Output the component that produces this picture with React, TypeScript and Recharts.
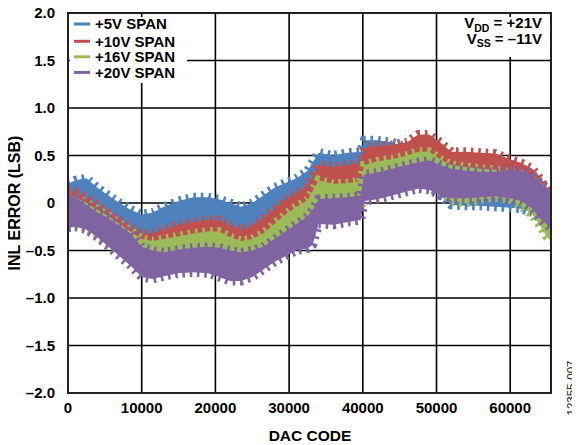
import React from 'react';
import { ComposedChart, Area, XAxis, YAxis, CartesianGrid, ReferenceArea } from 'recharts';

const FONT = '"Liberation Sans", Arial, Helvetica, sans-serif';

const codes = [0, 1000, 2500, 4000, 5500, 7000, 8500, 10000, 11500, 13000,
  15000, 17000, 19000, 20500, 22000, 23500, 25000, 26500, 28000, 29500,
  31000, 32500, 33200, 34000, 36000, 38000, 39700, 40200, 42000, 44000,
  46000, 47500, 49000, 50500, 52000, 54000, 56000, 58000, 60000, 61500,
  63000, 64000, 65000, 65535];

const span5Hi = [0.20, 0.24, 0.26, 0.16, 0.08, 0.00, -0.07, -0.12, -0.10, -0.04,
  0.02, 0.06, 0.06, 0.04, 0.00, -0.04, 0.00, 0.08, 0.16, 0.21,
  0.26, 0.34, 0.43, 0.53, 0.50, 0.53, 0.54, 0.66, 0.66, 0.64,
  0.58, 0.58, 0.54, 0.48, 0.44, 0.44, 0.44, 0.43, 0.40, 0.36,
  0.30, 0.20, 0.08, 0.03];
const span5Lo = [-0.14, -0.10, -0.10, -0.18, -0.26, -0.34, -0.40, -0.44, -0.42, -0.38,
  -0.32, -0.28, -0.28, -0.30, -0.34, -0.38, -0.34, -0.26, -0.18, -0.13,
  -0.08, 0.00, 0.07, 0.17, 0.16, 0.18, 0.20, 0.30, 0.30, 0.28,
  0.24, 0.22, 0.18, 0.08, -0.02, -0.03, -0.03, -0.04, -0.05, -0.06,
  -0.10, -0.16, -0.28, -0.33];

const span10Hi = [0.13, 0.12, 0.06, -0.02, -0.10, -0.18, -0.26, -0.32, -0.32, -0.28,
  -0.23, -0.20, -0.18, -0.18, -0.24, -0.28, -0.24, -0.16, -0.06, 0.04,
  0.10, 0.18, 0.28, 0.40, 0.38, 0.40, 0.42, 0.58, 0.60, 0.61,
  0.64, 0.72, 0.72, 0.64, 0.54, 0.54, 0.53, 0.52, 0.46, 0.42,
  0.36, 0.26, 0.13, 0.06];
const span10Lo = [-0.18, -0.18, -0.23, -0.30, -0.38, -0.46, -0.54, -0.60, -0.62, -0.60,
  -0.56, -0.53, -0.52, -0.54, -0.58, -0.62, -0.58, -0.50, -0.42, -0.34,
  -0.28, -0.20, -0.10, 0.00, -0.02, 0.00, 0.02, 0.20, 0.22, 0.24,
  0.28, 0.32, 0.32, 0.24, 0.12, 0.10, 0.10, 0.10, 0.07, 0.04,
  -0.03, -0.13, -0.20, -0.24];

const span16Hi = [0.08, 0.06, 0.00, -0.07, -0.14, -0.22, -0.30, -0.38, -0.40, -0.38,
  -0.35, -0.32, -0.30, -0.30, -0.36, -0.40, -0.38, -0.32, -0.22, -0.12,
  -0.04, 0.03, 0.13, 0.24, 0.20, 0.21, 0.23, 0.40, 0.44, 0.46,
  0.50, 0.54, 0.54, 0.46, 0.40, 0.38, 0.36, 0.35, 0.32, 0.30,
  0.24, 0.16, 0.06, 0.03];
const span16Lo = [-0.22, -0.22, -0.26, -0.34, -0.42, -0.50, -0.58, -0.66, -0.68, -0.66,
  -0.63, -0.60, -0.60, -0.62, -0.66, -0.70, -0.66, -0.58, -0.50, -0.42,
  -0.36, -0.30, -0.18, -0.08, -0.10, -0.08, -0.06, 0.12, 0.14, 0.16,
  0.20, 0.22, 0.22, 0.14, 0.02, 0.00, 0.04, 0.06, 0.04, -0.04,
  -0.12, -0.23, -0.36, -0.40];

const span20Hi = [0.08, 0.06, -0.02, -0.10, -0.16, -0.24, -0.32, -0.46, -0.50, -0.52,
  -0.49, -0.47, -0.46, -0.47, -0.50, -0.52, -0.50, -0.46, -0.38, -0.30,
  -0.22, -0.14, -0.07, 0.04, 0.05, 0.06, 0.08, 0.30, 0.32, 0.36,
  0.40, 0.43, 0.45, 0.40, 0.36, 0.34, 0.33, 0.33, 0.35, 0.34,
  0.30, 0.22, 0.15, 0.10];
const span20Lo = [-0.26, -0.25, -0.28, -0.36, -0.46, -0.56, -0.66, -0.78, -0.80, -0.77,
  -0.74, -0.73, -0.74, -0.78, -0.82, -0.82, -0.78, -0.70, -0.62, -0.56,
  -0.50, -0.48, -0.44, -0.22, -0.23, -0.20, -0.18, 0.02, 0.04, 0.08,
  0.12, 0.15, 0.14, 0.08, 0.05, 0.05, 0.06, 0.07, 0.05, 0.02,
  -0.06, -0.16, -0.23, -0.26];

const xTicks = [0, 10000, 20000, 30000, 40000, 50000, 60000];
const yTicks = [-2, -1.5, -1, -0.5, 0, 0.5, 1, 1.5, 2];

const seriesNames = ['+5V SPAN', '+10V SPAN', '+16V SPAN', '+20V SPAN'];
const seriesKeys = ['s5', 's10', 's16', 's20'];
const seriesColors = ['#4F81BD', '#C0504D', '#9BBB59', '#8064A2'];

const data = codes.map((c, i) => ({
  code: c,
  s5: [span5Lo[i], span5Hi[i]],
  s10: [span10Lo[i], span10Hi[i]],
  s16: [span16Lo[i], span16Hi[i]],
  s20: [span20Lo[i], span20Hi[i]],
}));

const fmtY = (v: number) => (v === 0 ? '0' : (v < 0 ? '\u2013' : '') + Math.abs(v).toFixed(1));

const tickStyle = { fill: '#000', fontSize: 15, fontWeight: 700, fontFamily: FONT };

export default function App() {
  const W = 572;
  const H = 437;
  return (
    <div style={{ position: 'relative', width: W, height: H, fontFamily: FONT }}>
      <ComposedChart width={W} height={H} data={data} margin={{ top: 5, right: 29, bottom: 0, left: 0 }}>
        <CartesianGrid stroke="#000" strokeWidth={1.6} />
        <XAxis
          dataKey="code"
          type="number"
          domain={[0, 65535]}
          ticks={xTicks}
          interval={0}
          allowDataOverflow
          height={52}
          tickSize={0}
          tickMargin={9}
          axisLine={false}
          tickLine={false}
          tick={tickStyle}
        />
        <YAxis
          type="number"
          domain={[-2, 2]}
          ticks={yTicks}
          interval={0}
          allowDataOverflow
          width={60}
          tickSize={0}
          tickMargin={13}
          axisLine={false}
          tickLine={false}
          tickFormatter={fmtY}
          tick={tickStyle}
        />
        {seriesKeys.map((k, i) => (
          <Area
            key={k}
            dataKey={k}
            type="linear"
            fill={seriesColors[i]}
            fillOpacity={1}
            stroke={seriesColors[i]}
            strokeWidth={9}
            strokeDasharray="2.6 4.8"
            dot={false}
            activeDot={false}
            isAnimationActive={false}
          />
        ))}
        <ReferenceArea x1={0} x2={65535} y1={-2} y2={2} fill="none" stroke="#222" strokeWidth={2} ifOverflow="visible" />
      </ComposedChart>
      <svg width={W} height={H} style={{ position: 'absolute', left: 0, top: 0, pointerEvents: 'none' }}>
        <rect x={62} y={9} width={117} height={66} fill="#fff" />
        {seriesNames.map((n, i) => {
          const cy = [16, 33.3, 48.8, 64.4][i];
          return (
            <g key={n}>
              <line x1={66} x2={82} y1={cy} y2={cy} stroke={seriesColors[i]} strokeWidth={3} />
              <text x={87} y={cy + 5.4} fontSize={15} fontWeight={700} fontFamily={FONT} fill="#000">{n}</text>
            </g>
          );
        })}
        <rect x={432} y={9} width={109} height={40} fill="#fff" />
        <text x={534} y={20.3} textAnchor="end" fontSize={15} fontWeight={700} fontFamily={FONT} fill="#000">
          <tspan>V</tspan>
          <tspan fontSize={10.5} dy={3.5}>DD</tspan>
          <tspan dy={-3.5}> = +21V</tspan>
        </text>
        <text x={534} y={35.5} textAnchor="end" fontSize={15} fontWeight={700} fontFamily={FONT} fill="#000">
          <tspan>V</tspan>
          <tspan fontSize={10.5} dy={3.5}>SS</tspan>
          <tspan dy={-3.5}> = {'\u2013'}11V</tspan>
        </text>
        <text x={302} y={432.5} textAnchor="middle" fontSize={15.5} fontWeight={700} fontFamily={FONT} fill="#000">DAC CODE</text>
        <text x={11.5} y={195} textAnchor="middle" fontSize={16} fontWeight={700} fontFamily={FONT} fill="#000" transform="rotate(-90, 11.5, 195)">INL ERROR (LSB)</text>
        <text x={567} y={380} textAnchor="middle" fontSize={11.5} fontFamily={FONT} fill="#111" transform="rotate(-90, 567, 380)">12355-007</text>
      </svg>
    </div>
  );
}
